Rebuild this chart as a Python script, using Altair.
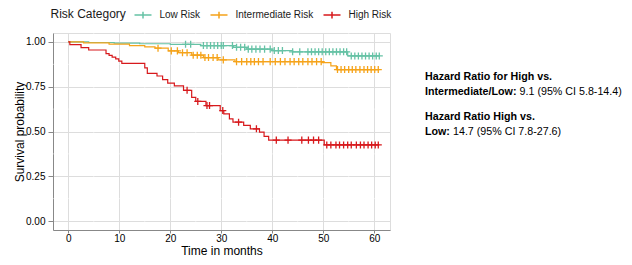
import altair as alt
import pandas as pd
import numpy as np

groups = ["Low Risk", "Intermediate Risk", "High Risk"]
colors = ["#66C2A5", "#F5A31A", "#D7191C"]
end_time = 61

low_t = [0, 4, 9, 14, 20, 26, 32.4, 35, 40, 44, 54.8]
low_s = [1.0, 0.997, 0.994, 0.99, 0.987, 0.98, 0.97, 0.96, 0.952, 0.945, 0.922]
low_c = [23, 24, 26.5, 27.2, 27.9, 28.6, 29.3, 30, 30.4, 32.2, 33, 33.8, 34.6, 35.3, 36,
         36.8, 37.6, 38.5, 39.6, 40.4, 41.2, 42, 44, 45.4, 47, 47.7, 48.4, 49.1, 49.8,
         50.5, 51.2, 51.9, 52.6, 53.3, 54, 54.6, 55.5, 56.2, 56.9, 57.6, 58.3, 59, 59.7,
         60.4, 61]

int_t = [0, 3, 8, 12, 15, 17, 19.6, 21.6, 24.2, 26.5, 29.4, 32.7, 49.7, 51.5, 52.6]
int_s = [1.0, 0.995, 0.988, 0.98, 0.972, 0.965, 0.95, 0.94, 0.926, 0.913, 0.9, 0.89,
         0.885, 0.866, 0.846]
int_c = [17.6, 20.2, 21.4, 22.4, 23.3, 24.5, 25.3, 26, 26.8, 27.5, 28.4, 29.2, 30.4, 33,
         34, 35, 35.8, 36.5, 37.3, 38.2, 39.6, 40.6, 41.6, 42.5, 43.5, 44.3, 45.2, 46, 47,
         47.8, 48.7, 49.6, 52.8, 53.5, 54.2, 55, 55.7, 56.4, 57.2, 58, 58.7, 59.4, 60.1,
         60.8]

high_t = [0, 0.3, 2.5, 4, 7.4, 8, 8.6, 9.3, 9.9, 10.5, 15, 15.5, 17.4, 18.5, 19.5, 20.8,
          22.6, 24.2, 25, 27, 29.8, 30.5, 31.6, 32.3, 34.4, 35.7, 37.5, 38.4, 39.3, 50.2]
high_s = [1.0, 0.985, 0.968, 0.955, 0.935, 0.925, 0.915, 0.905, 0.893, 0.88, 0.855, 0.825,
          0.81, 0.79, 0.77, 0.755, 0.73, 0.69, 0.668, 0.645, 0.617, 0.598, 0.571, 0.552,
          0.534, 0.515, 0.497, 0.473, 0.452, 0.425]
high_c = [23.3, 25.4, 27.2, 27.7, 30.3, 33.4, 36.9, 40.8, 43.1, 45.8, 47.1, 48.1, 49.1,
          50.7, 51.5, 52.5, 53.2, 54, 54.8, 55.5, 56.5, 57.3, 58, 58.8, 59.5, 60.2, 60.8]

x_ticks = [0, 10, 20, 30, 40, 50, 60]
y_ticks = [0, 0.25, 0.5, 0.75, 1.0]
x_minor = [5, 15, 25, 35, 45, 55]
y_minor = [0.125, 0.375, 0.625, 0.875]

note_bold = ["Hazard Ratio for High vs.", "Intermediate/Low:", "Hazard Ratio High vs.", "Low:"]
note_rest = ["", "9.1 (95% CI 5.8-14.4)", "", "14.7 (95% CI 7.8-27.6)"]

series = {"Low Risk": (low_t, low_s, low_c),
          "Intermediate Risk": (int_t, int_s, int_c),
          "High Risk": (high_t, high_s, high_c)}

line_rows, cens_rows = [], []
for g in groups:
    t, s, c = series[g]
    for ti, si in zip(t + [end_time], s + [s[-1]]):
        line_rows.append({"time": ti, "surv": si, "group": g})
    idx = np.searchsorted(np.array(t), np.array(c), side="right") - 1
    for ci, k in zip(c, idx):
        cens_rows.append({"time": ci, "surv": s[k], "group": g})
lines_df = pd.DataFrame(line_rows)
cens_df = pd.DataFrame(cens_rows)

W, H = 337, 197
xs = alt.Scale(domain=[-3, 63.1], nice=False, zero=False)
ys = alt.Scale(domain=[-0.05, 1.05], nice=False, zero=False)
cs = alt.Scale(domain=groups, range=colors)

plus_path = "M-1,0L1,0M0,-1L0,1"
legend_path = "M-1,0L1,0M0,-0.4L0,0.4"

minor_x = alt.Chart(pd.DataFrame({"v": x_minor})).mark_rule(
    color="white", strokeWidth=0.5).encode(x=alt.X("v:Q", scale=xs))
minor_y = alt.Chart(pd.DataFrame({"v": y_minor})).mark_rule(
    color="white", strokeWidth=0.5).encode(y=alt.Y("v:Q", scale=ys))

lines = alt.Chart(lines_df).mark_line(interpolate="step-after", strokeWidth=1.2).encode(
    x=alt.X("time:Q", scale=xs,
            axis=alt.Axis(values=x_ticks, title="Time in months", titleY=24,
                          titleBaseline="alphabetic", format="d", labelPadding=0,
                          tickSize=3,
                          titleFontWeight=400, titleFontSize=12,
                          titleFont="Liberation Sans", titleColor="#000000")),
    y=alt.Y("surv:Q", scale=ys,
            axis=alt.Axis(values=y_ticks, title="Survival probability", format=".2f",
                          titleX=-30, titleY=H / 2, titleAngle=270,
                          titleBaseline="alphabetic", titleAlign="center",
                          labelPadding=3, titleFontWeight=400, titleFontSize=12,
                          titleFont="Liberation Sans", titleColor="#000000")),
    color=alt.Color("group:N", scale=cs, sort=groups,
                    legend=alt.Legend(orient="none", legendX=-2.5, legendY=-27.5,
                                      direction="horizontal", title="Risk Category",
                                      titleOrient="left", titleFontSize=12,
                                      titleFontWeight=400, titleColor="#1A1A1A",
                                      titleFont="Liberation Sans", titlePadding=7,
                                      labelFont="Liberation Sans", labelFontSize=10,
                                      labelColor="#1A1A1A", labelOffset=7,
                                      columnPadding=7, symbolType=legend_path,
                                      symbolSize=289, symbolStrokeWidth=1.5)),
    detail="group:N",
)

points = alt.Chart(cens_df).mark_point(shape=plus_path, filled=False, size=50,
                                       strokeWidth=1.3, opacity=1).encode(
    x=alt.X("time:Q", scale=xs),
    y=alt.Y("surv:Q", scale=ys),
    color=alt.Color("group:N", scale=cs, legend=None),
)

notes_df = pd.DataFrame({"bold": note_bold, "rest": note_rest})
bold_offsets = [0, 94.6, 0, 28.0]
line_y = [47, 62, 87, 102]
notes_df["y"] = line_y
notes_df["xr"] = [372 + b for b in bold_offsets]

bold_text = alt.Chart(notes_df).mark_text(
    align="left", baseline="alphabetic", font="Liberation Sans", fontSize=10.7,
    fontWeight="bold", color="#000000").encode(
    x=alt.value(372), y=alt.Y("y:Q", scale=None), text="bold:N")
rest_text = alt.Chart(notes_df).mark_text(
    align="left", baseline="alphabetic", font="Liberation Sans", fontSize=10.7,
    color="#000000").encode(
    x=alt.X("xr:Q", scale=None), y=alt.Y("y:Q", scale=None), text="rest:N")

chart = alt.layer(minor_x, minor_y, lines, points, bold_text, rest_text).properties(
    width=W, height=H,
    autosize=alt.AutoSizeParams(type="none"),
    padding={"left": 45, "top": 25, "right": 234, "bottom": 27},
).configure_view(fill="#EBEBEB", strokeWidth=0).configure_axis(
    domain=False, tickColor="#333333", tickSize=4, tickWidth=0.8,
    grid=True, gridColor="#FFFFFF", gridWidth=1.1,
    labelColor="#4D4D4D", labelFont="Liberation Sans", labelFontSize=10,
    titleFont="Liberation Sans", titleFontSize=12, titleFontWeight=400,
    titleColor="#000000",
).configure(background="white")

chart.save("out.html", embed_options={"renderer": "svg", "actions": False})
